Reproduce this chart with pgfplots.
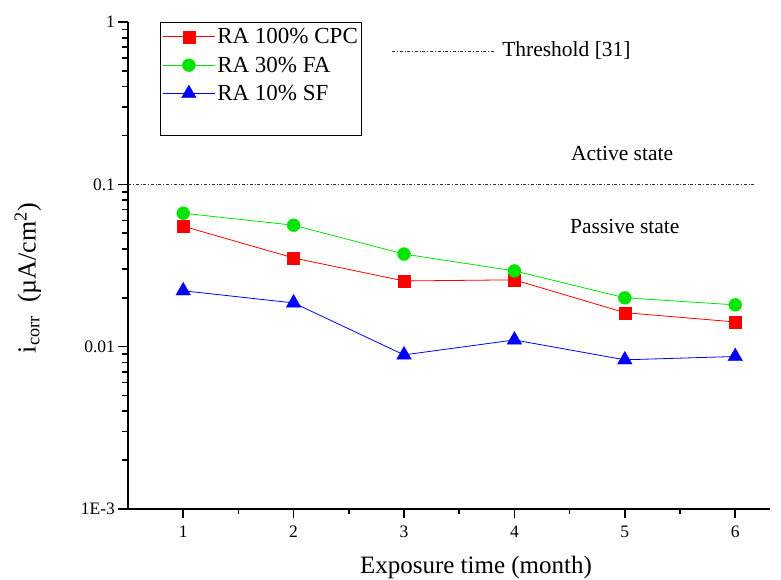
\documentclass[border=0pt]{standalone}
\usepackage{fontspec}
\setmainfont{Liberation Serif}
\usepackage{pgfplots}
\pgfplotsset{compat=1.18}
\begin{document}
\begin{tikzpicture}
\useasboundingbox (0,0) rectangle (781pt,580pt);
\begin{axis}[
  at={(128pt,71pt)}, anchor=south west,
  scale only axis, width=642pt, height=487pt,
  xmin=0.5, xmax=6.315,
  ymode=log, ymin=1e-3, ymax=1,
  axis x line=bottom, axis y line=left, axis line style={-, line width=1.5pt},
  tick align=outside,
  major tick length=9.5pt, minor tick length=5.5pt,
  xtick style={black, line width=1.5pt},
  ytick style={black, line width=1.6pt},
  xtick={1,2,3,4,5,6},
  minor xtick={1.5,2.5,3.5,4.5,5.5},
  ytick={1e-3,1e-2,1e-1,1},
  minor ytick={2e-3,3e-3,4e-3,5e-3,6e-3,7e-3,8e-3,9e-3,2e-2,3e-2,4e-2,5e-2,6e-2,7e-2,8e-2,9e-2,0.2,0.3,0.4,0.5,0.6,0.7,0.8,0.9},
  yticklabels={1E-3,0.01,0.1,1},
  /pgf/number format/assume math mode=true,
  tick label style={font=\fontsize{17.5}{20}\selectfont},
  xticklabel style={yshift=-4pt},
  xlabel={Exposure time (month)},
  ylabel={i\textsubscript{corr}\ \ (µA/cm\textsuperscript{2})},
  every axis x label/.style={at={(axis description cs:0.542,-0.121)}, anchor=center, font=\fontsize{25}{28}\selectfont},
  every axis y label/.style={at={(axis description cs:-0.156,0.474)}, anchor=center, rotate=90, font=\fontsize{26}{29}\selectfont},
  legend style={at={(axis description cs:0.0498,1)}, anchor=north west,
    draw=black, line width=1pt, font=\fontsize{23}{26}\selectfont,
    inner xsep=2pt, inner ysep=4pt, row sep=7.5pt,
    nodes={inner sep=2pt}},
  legend cell align=left,
  legend image code/.code={\draw[mark repeat=2,mark phase=2] plot coordinates {(0pt,0pt)(26pt,0pt)(52pt,0pt)};},
  clip=false,
]
\addplot[red, line width=0.8pt, mark=square*, mark size=6pt, mark options={solid, fill=red, draw=red, line width=0.3pt}]
coordinates {(1,0.0552)(2,0.0352)(3,0.0254)(4,0.0258)(5,0.0162)(6,0.0142)};
\addlegendentry{RA 100\% CPC}
\addplot[green!90!black, line width=0.8pt, mark=*, mark size=6.5pt, mark options={solid, fill=green!90!black, draw=green!90!black, line width=0.3pt}]
coordinates {(1,0.0664)(2,0.056)(3,0.0372)(4,0.0293)(5,0.0200)(6,0.0181)};
\addlegendentry{RA 30\% FA}
\addplot[blue, line width=0.8pt, mark=triangle*, mark size=8.5pt, mark options={solid, fill=blue, draw=blue, line width=0.3pt}]
coordinates {(1,0.0221)(2,0.0186)(3,0.0089)(4,0.0110)(5,0.0083)(6,0.0087)};
\addlegendentry{RA 10\% SF}
\addlegendimage{empty legend}
\addlegendentry{\phantom{X}}
\addplot[black!80, line width=0.6pt, dash dot, forget plot]
coordinates {(0.5,0.1)(6.18,0.1)};
\draw[black!80, line width=0.6pt, dash dot] (axis cs:2.891,0.664) -- (axis cs:3.824,0.664);
\node[anchor=west, font=\fontsize{21.5}{24}\selectfont, inner sep=0pt] at (axis cs:3.888,0.664) {Threshold [31]};
\node[font=\fontsize{21.5}{24}\selectfont, inner sep=0pt] at (axis cs:4.975,0.155) {Active state};
\node[font=\fontsize{21.5}{24}\selectfont, inner sep=0pt] at (axis cs:5.0,0.0552) {Passive state};
\end{axis}
\end{tikzpicture}
\end{document}
